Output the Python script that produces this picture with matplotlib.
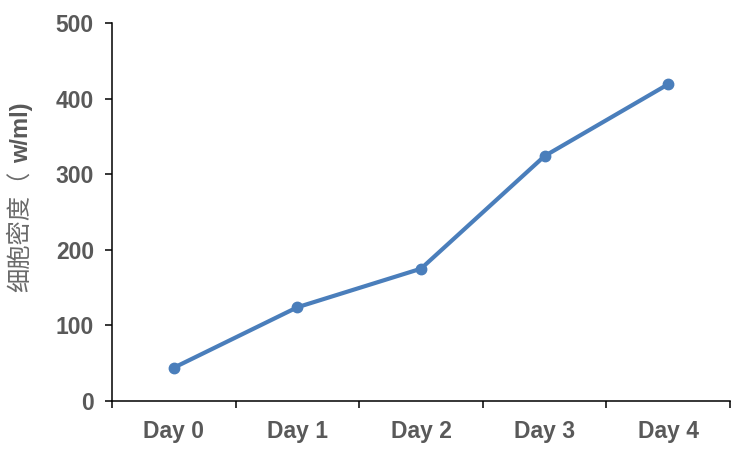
import numpy as np
import matplotlib.pyplot as plt

days = ['Day 0', 'Day 1', 'Day 2', 'Day 3', 'Day 4']
density = [44, 124, 175, 324, 419]
yticks = [0, 100, 200, 300, 400, 500]

fig = plt.figure(figsize=(7.5, 4.5), dpi=100)
ax = fig.add_axes([0.1493, 0.1089, 0.824, 0.84])

x = np.arange(len(days))
ax.plot(x, density, color='#4a7ebb', lw=3, marker='o', ms=7.5, zorder=3)

ax.set_xlim(-0.5, len(days) - 0.5)
ax.set_ylim(0, 500)
ax.set_yticks(yticks)
ax.set_xticks(x)
ax.set_xticklabels(days)
ax.set_xticks(np.arange(len(days) + 1) - 0.5, minor=True)
ax.tick_params(axis='x', which='major', length=0, pad=14)
ax.tick_params(axis='x', which='minor', length=5, width=1.1, direction='out')
ax.tick_params(axis='y', length=5, width=1.1, direction='out', pad=8)
for lab in ax.get_xticklabels() + ax.get_yticklabels():
    lab.set_fontfamily('Liberation Sans')
    lab.set_fontweight('bold')
    lab.set_fontsize(16.5)
    lab.set_color('#595959')

for s in ['top', 'right']:
    ax.spines[s].set_visible(False)
for s in ['left', 'bottom']:
    ax.spines[s].set_linewidth(1.1)

# y label: Chinese part plus bold unit
fig.text(0.027, 0.352, '细胞密度（', rotation=90, ha='center', va='bottom',
         family=['Noto Sans CJK SC'], fontsize=17.5, color='#6a6a6a')
fig.text(0.029, 0.638, 'w/ml)', rotation=90, ha='center', va='bottom',
         family=['Liberation Sans'], fontsize=17, color='#595959', fontweight='bold')

fig.savefig('out.png', dpi=100)
